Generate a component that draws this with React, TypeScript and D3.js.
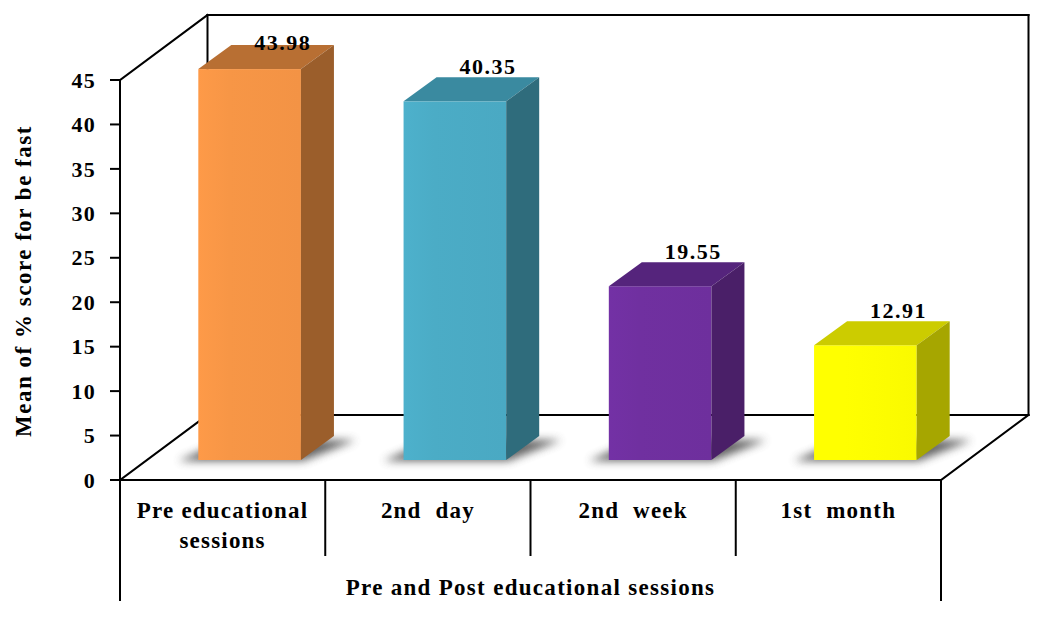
import React from 'react';
import * as d3 from 'd3';

const categories: string[] = ["Pre educational\nsessions", "2nd  day", "2nd  week", "1st  month"];
const values: number[] = [43.98, 40.35, 19.55, 12.91];
const valueLabels: string[] = ["43.98", "40.35", "19.55", "12.91"];
const yTicks: number[] = [0, 5, 10, 15, 20, 25, 30, 35, 40, 45];
const frontColors: string[] = ["#F79646", "#4BACC6", "#7030A0", "#FFFF00"];
const topColors: string[] = ["#B86F33", "#3A8AA0", "#55247C", "#CCCC00"];
const sideColors: string[] = ["#9B5E2B", "#2F6C7C", "#4A1F68", "#A6A600"];
const yAxisTitle = "Mean of % score for be fast";
const xAxisTitle = "Pre and Post educational sessions";

const W = 1053;
const H = 640;
const LEFT = 120;
const RIGHT = 941;
const FLOOR_Y = 480;
const TOP_Y = 80;
const DEPTH_DX = 87.5;
const DEPTH_DY = 65;
const WALL_TOP = 15;
const BAR_OFF_X = 27;
const BAR_OFF_Y = 20;
const BAR_DX = 33;
const BAR_DY = 24;
const FONT = "'Liberation Serif', 'Times New Roman', serif";

export default function App() {
  const y = d3.scaleLinear().domain([0, 45]).range([FLOOR_Y, TOP_Y]);
  const x = d3.scaleBand<string>().domain(categories).range([LEFT, RIGHT]).paddingInner(0.5).paddingOuter(0.25);
  const step = x.step();
  const bw = x.bandwidth();
  const bounds = categories.map((_, i) => LEFT + i * step);
  bounds.push(RIGHT);

  const bx0 = LEFT + DEPTH_DX;
  const bx1 = RIGHT + DEPTH_DX;
  const bBottom = FLOOR_Y - DEPTH_DY;

  const line = (x1: number, y1: number, x2: number, y2: number, key: string) => (
    <line key={key} x1={x1} y1={y1} x2={x2} y2={y2} stroke="#000" strokeWidth={2} strokeLinecap="square" />
  );

  return (
    <svg width={W} height={H} style={{ position: 'absolute', left: 0, top: 0, background: '#fff' }}>
      <defs>
        <filter id="shadowBlur" x="-50%" y="-50%" width="200%" height="200%">
          <feGaussianBlur stdDeviation="4" />
        </filter>
        {frontColors.map((c, i) => (
          <linearGradient key={'fg' + i} id={'fg' + i} x1="0" x2="1" y1="0" y2="0">
            <stop offset="0" stopColor={d3.color(c)!.brighter(0.08).formatHex()} />
            <stop offset="0.3" stopColor={c} />
            <stop offset="1" stopColor={d3.color(c)!.darker(0.05).formatHex()} />
          </linearGradient>
        ))}
      </defs>

      {/* back wall */}
      <rect x={bx0} y={WALL_TOP} width={bx1 - bx0} height={bBottom - WALL_TOP} fill="#fff" />
      {line(bx0, WALL_TOP, bx1, WALL_TOP, 'wt')}
      {line(bx1, WALL_TOP, bx1, bBottom, 'wr')}
      {line(bx0, WALL_TOP, bx0, bBottom, 'wl')}
      {line(bx0, bBottom, bx1, bBottom, 'wb')}
      {line(LEFT, y(45), bx0, WALL_TOP, 'dtl')}
      {line(LEFT, FLOOR_Y, bx0, bBottom, 'dbl')}
      {line(RIGHT, FLOOR_Y, bx1, bBottom, 'dbr')}

      {/* shadows */}
      {categories.map((c, i) => {
        const x0 = (x(c) as number) + BAR_OFF_X;
        const x1 = x0 + bw;
        const y0 = FLOOR_Y - BAR_OFF_Y;
        const pts = [
          [x0 - 20, y0 + 1],
          [x1 + 2, y0 + 1],
          [x1 + BAR_DX + 22, y0 - BAR_DY + 4],
          [x0 + BAR_DX - 6, y0 - BAR_DY + 4],
        ];
        return (
          <polygon key={'sh' + i} points={pts.map(p => p.join(',')).join(' ')} fill="#555" opacity={0.9} filter="url(#shadowBlur)" />
        );
      })}

      {/* bars */}
      {categories.map((c, i) => {
        const x0 = (x(c) as number) + BAR_OFF_X;
        const x1 = x0 + bw;
        const y0 = FLOOR_Y - BAR_OFF_Y;
        const h = FLOOR_Y - y(values[i]);
        const yt = y0 - h;
        const top = [[x0, yt], [x1, yt], [x1 + BAR_DX, yt - BAR_DY], [x0 + BAR_DX, yt - BAR_DY]];
        const side = [[x1, yt], [x1 + BAR_DX, yt - BAR_DY], [x1 + BAR_DX, y0 - BAR_DY], [x1, y0]];
        const lbY = Math.max(yt - BAR_DY - 3, 50);
        return (
          <g key={'bar' + i}>
            <rect x={x0} y={yt} width={bw} height={h} fill={`url(#fg${i})`} />
            <polygon points={top.map(p => p.join(',')).join(' ')} fill={topColors[i]} />
            <polygon points={side.map(p => p.join(',')).join(' ')} fill={sideColors[i]} />
            <text x={x0 + BAR_DX + bw / 2} y={lbY} textAnchor="middle" fontFamily={FONT} fontWeight="bold" fontSize={22} letterSpacing={1.5} fill="#000">
              {valueLabels[i]}
            </text>
          </g>
        );
      })}

      {/* y axis */}
      {line(LEFT, y(45), LEFT, 600, 'ya')}
      {yTicks.map(t => (
        <g key={'t' + t}>
          {line(LEFT - 9, y(t), LEFT, y(t), 'tk' + t)}
          <text x={96} y={y(t)} dy="0.35em" textAnchor="end" fontFamily={FONT} fontWeight="bold" fontSize={22} letterSpacing={1.2} fill="#000">
            {t}
          </text>
        </g>
      ))}
      <text transform={`translate(31, 281) rotate(-90)`} textAnchor="middle" fontFamily={FONT} fontWeight="bold" fontSize={23} letterSpacing={1.5} fill="#000">
        {yAxisTitle}
      </text>

      {/* floor front + category table */}
      {line(LEFT, FLOOR_Y, RIGHT, FLOOR_Y, 'ff')}
      {line(RIGHT, FLOOR_Y, RIGHT, 600, 'rv')}
      {bounds.slice(1, -1).map((b, i) => line(b, FLOOR_Y, b, 555, 'div' + i))}
      {categories.map((c, i) => {
        const cx = LEFT + i * step + step / 2;
        const lines = c.split('\n');
        return (
          <text key={'cl' + i} fontFamily={FONT} fontWeight="bold" fontSize={23} letterSpacing={1.2} textAnchor="middle" fill="#000" style={{ whiteSpace: 'pre' }}>
            {lines.map((l, j) => (
              <tspan key={j} x={cx} y={518 + j * 30}>{l}</tspan>
            ))}
          </text>
        );
      })}
      <text x={(LEFT + RIGHT) / 2} y={595} textAnchor="middle" fontFamily={FONT} fontWeight="bold" fontSize={23} letterSpacing={1.3} fill="#000">
        {xAxisTitle}
      </text>
    </svg>
  );
}
